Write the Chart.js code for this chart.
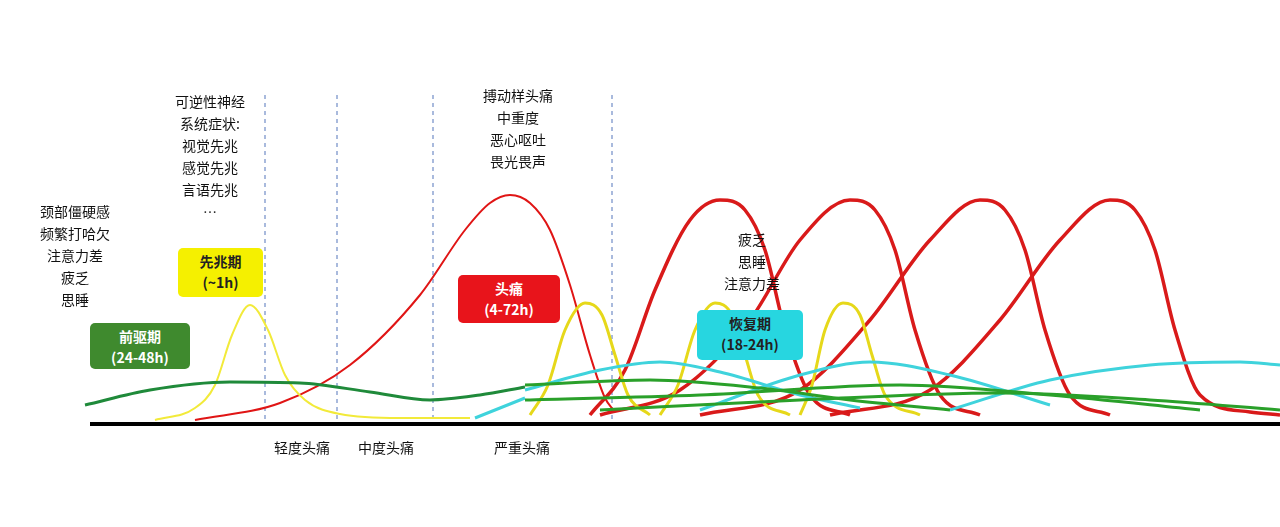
<!DOCTYPE html>
<html><head><meta charset="utf-8">
<script src="https://cdn.jsdelivr.net/npm/chart.js@4/dist/chart.umd.min.js"></script>
<style>
body{margin:0;background:#fff;font-family:"Noto Sans CJK SC",sans-serif;}
#wrap{position:relative;width:1280px;height:527px;}
canvas{position:absolute;left:0;top:0;}
.t{position:absolute;font-size:14px;line-height:22px;text-align:center;color:#111;white-space:nowrap;transform:translateX(-50%);}
.b{position:absolute;border-radius:5px;font-size:14px;line-height:21px;text-align:center;font-weight:bold;padding-top:3px;box-sizing:border-box;}
</style></head><body>
<div id="wrap"><canvas id="c" width="1280" height="527"></canvas>
<div class="t" style="left:75px;top:200px">颈部僵硬感<br>频繁打哈欠<br>注意力差<br>疲乏<br>思睡</div>
<div class="t" style="left:210px;top:90px">可逆性神经<br>系统症状:<br>视觉先兆<br>感觉先兆<br>言语先兆<br>…</div>
<div class="t" style="left:518px;top:84px">搏动样头痛<br>中重度<br>恶心呕吐<br>畏光畏声</div>
<div class="t" style="left:752px;top:228px">疲乏<br>思睡<br>注意力差</div>
<div class="b" style="left:90px;top:323px;width:100px;height:46px;background:#3f8a2e;color:#fff">前驱期<br>(24-48h)</div>
<div class="b" style="left:178px;top:248px;width:85px;height:49px;background:#f5f000;color:#222">先兆期<br>(~1h)</div>
<div class="b" style="left:458px;top:275px;width:102px;height:48px;background:#e8141b;color:#fff">头痛<br>(4-72h)</div>
<div class="b" style="left:697px;top:310px;width:106px;height:50px;background:#27d6e0;color:#222">恢复期<br>(18-24h)</div>
<div class="t" style="left:302px;top:436px">轻度头痛</div>
<div class="t" style="left:386px;top:436px">中度头痛</div>
<div class="t" style="left:522px;top:436px">严重头痛</div>
</div>
<script>
const green1=[[85,405],[150,390],[230,382],[300,383],[370,392],[430,400],[480,395],[525,387]];
const yellow1=[[155,420],[195,408],[215,385],[232,335],[250,305],[268,330],[285,375],[305,400],[340,414],[400,418],[470,418]];
const red1=[[195,420],[280,403],[350,365],[420,295],[465,230],[490,203],[510,195],[530,203],[550,230],[570,285],[590,355],[605,398],[615,412]];
const cyan1=[[475,418],[525,398]];
const reds=[
 [[590,415],[625,370],[655,290],[690,220],[720,200],[745,210],[765,250],[785,330],[810,395],[850,415]],
 [[600,415],[680,390],[750,320],[800,240],[850,200],[875,210],[895,250],[915,330],[940,395],[980,415]],
 [[700,415],[800,390],[870,320],[930,240],[980,200],[1005,210],[1025,250],[1045,330],[1070,395],[1110,415]],
 [[830,415],[930,390],[1000,320],[1060,240],[1110,200],[1135,210],[1155,250],[1175,330],[1200,395],[1250,412],[1280,415]]];
const yellows=[
 [[530,415],[548,385],[565,330],[585,303],[602,315],[615,355],[628,395],[650,415]],
 [[660,415],[678,385],[695,330],[715,303],[732,315],[745,355],[758,395],[790,415]],
 [[800,415],[812,385],[825,330],[843,303],[860,315],[872,355],[885,395],[920,415]]];
const cyans=[
 [[525,390],[600,370],[660,362],[720,372],[800,395],[860,408]],
 [[700,410],[800,375],[870,362],[950,375],[1050,405]],
 [[950,410],[1050,380],[1150,365],[1240,362],[1280,365]]];
const greens=[
 [[525,385],[650,380],[760,388],[850,400],[950,410]],
 [[525,400],[700,395],[900,385],[1050,395],[1200,410]],
 [[600,410],[800,400],[1000,393],[1150,400],[1280,410]]];
const dashX=[265,337,433,612];
const pts=a=>a.map(p=>({x:p[0],y:p[1]}));
const ds=[];
const add=(a,c,w)=>ds.push({data:pts(a),borderColor:c,borderWidth:w,pointRadius:0,cubicInterpolationMode:'monotone',fill:false});
greens.forEach(a=>add(a,'#2aa02a',3));
cyans.forEach(a=>add(a,'#3fd3dc',3));
yellows.forEach(a=>add(a,'#e6d81a',3));
reds.forEach(a=>add(a,'#d91a1a',3.5));
add(green1,'#1f8a3a',3);add(yellow1,'#f2ea3a',2);add(red1,'#e01515',2);add(cyan1,'#3fd3dc',3);
const deco={id:'deco',beforeDatasetsDraw(ch){const c=ch.ctx,x=ch.scales.x,y=ch.scales.y;c.save();
 c.strokeStyle='#5577bb';c.lineWidth=1;c.setLineDash([4,4]);
 dashX.forEach(v=>{c.beginPath();c.moveTo(x.getPixelForValue(v),y.getPixelForValue(95));c.lineTo(x.getPixelForValue(v),y.getPixelForValue(420));c.stroke();});
 c.restore();},
 afterDatasetsDraw(ch){const c=ch.ctx,x=ch.scales.x,y=ch.scales.y;c.save();c.strokeStyle='#000';c.lineWidth=4;
 c.beginPath();c.moveTo(x.getPixelForValue(90),y.getPixelForValue(424));c.lineTo(x.getPixelForValue(1280),y.getPixelForValue(424));c.stroke();c.restore();}};
new Chart(document.getElementById('c'),{type:'line',data:{datasets:ds},
 options:{responsive:false,animation:false,layout:{padding:0},
 plugins:{legend:{display:false},tooltip:{enabled:false}},
 scales:{x:{type:'linear',min:0,max:1280,display:false},y:{min:0,max:527,reverse:true,display:false}}},
 plugins:[deco]});
</script></body></html>
